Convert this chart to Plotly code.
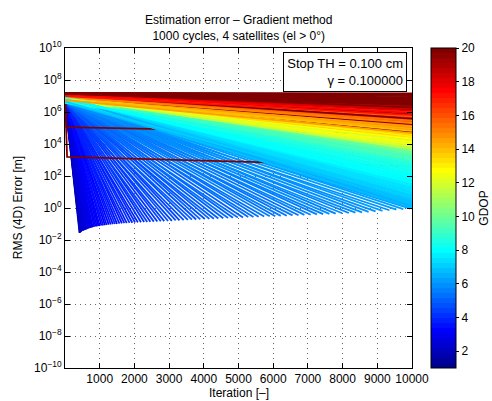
import plotly.graph_objects as go

# ---------------- data ----------------
# converged runs: GDOP, log10 start error, stop iteration, log10 final error
conv_gdop = [1.6, 2.0, 1.8, 2.3, 1.9, 2.1, 2.4, 2.2, 2.5, 2.3, 2.6, 2.4, 2.7, 2.5, 2.8, 2.6, 2.9, 2.7, 3.0, 2.8,
             3.1, 2.9, 3.2, 3.0,
             3.3, 3.1, 3.4, 3.2, 3.5, 3.3, 3.6, 3.4, 3.7, 3.5, 3.8, 3.6, 3.9, 3.7,
             4.0, 3.8, 4.1, 3.9, 4.2, 4.0, 4.3, 4.1, 4.4, 4.2, 4.5, 4.3, 4.6, 4.4, 4.7, 4.5, 4.8, 4.6, 4.9, 4.7,
             5.0, 4.8, 5.1, 4.9, 5.1, 5.0, 5.2, 5.0, 5.3, 5.1, 5.3, 5.2, 5.4, 5.2, 5.5, 5.3, 5.5, 5.4, 5.6, 5.4,
             5.7, 5.5, 5.7, 5.6, 5.8, 5.6, 5.9, 5.7, 6.0, 5.8, 6.0, 5.9, 6.1, 6.0, 6.2, 6.1, 6.3]
conv_start = [6.8, 6.9, 6.6, 6.95, 6.7, 6.85, 6.75, 6.9, 6.6, 6.8, 6.95, 6.7, 6.85, 6.6, 6.9, 6.75, 6.8, 6.65, 6.9, 6.7,
              6.85, 6.6, 6.8, 6.95, 6.7, 6.85, 6.6, 6.8, 6.9, 6.7, 6.85, 6.65, 6.8, 6.9, 6.7, 6.85, 6.6, 6.8, 6.9, 6.7,
              6.85, 6.65, 6.8, 6.9, 6.7, 6.85, 6.6, 6.8, 6.9, 6.7, 6.85, 6.65, 6.8, 6.9, 6.7, 6.85, 6.6, 6.8, 6.9, 6.7,
              6.85, 6.65, 6.8, 6.9, 6.7, 6.85, 6.6, 6.8, 6.9, 6.7, 6.85, 6.65, 6.8, 6.9, 6.7, 6.85, 6.6, 6.8, 6.9, 6.7,
              6.85, 6.65, 6.8, 6.9, 6.7, 6.85, 6.6, 6.8, 6.9, 6.7, 6.85, 6.65, 6.8, 6.9, 6.7]
conv_iter = [420, 430, 440, 450, 460, 470, 480, 500, 520, 540, 560, 580, 600, 620, 650, 680, 710, 740, 770, 800,
             840, 880, 920, 960, 1000, 1050, 1100, 1150, 1200, 1260, 1320, 1380, 1440, 1500, 1570, 1640, 1710, 1780, 1860, 1940,
             2020, 2100, 2190, 2280, 2370, 2460, 2560, 2660, 2760, 2860, 2970, 3080, 3190, 3300, 3420, 3540, 3660, 3780, 3900, 4030,
             4160, 4290, 4420, 4560, 4700, 4840, 4980, 5130, 5280, 5430, 5580, 5740, 5900, 6060, 6220, 6390, 6560, 6730, 6900, 7080,
             7260, 7440, 7620, 7800, 7990, 8180, 8370, 8560, 8750, 8950, 9150, 9350, 9550, 9750, 9950]
conv_end = [-1.56, -1.55, -1.52, -1.50, -1.48, -1.47, -1.45, -1.43, -1.42, -1.40, -1.38, -1.36, -1.35, -1.33, -1.31, -1.28, -1.26, -1.24, -1.22, -1.20,
            -1.18, -1.16, -1.15, -1.13, -1.12, -1.10, -1.09, -1.07, -1.06, -1.04, -1.03, -1.01, -1.00, -0.99, -0.97, -0.96, -0.95, -0.94, -0.93, -0.92,
            -0.91, -0.90, -0.89, -0.88, -0.87, -0.86, -0.85, -0.84, -0.83, -0.82, -0.81, -0.80, -0.78, -0.77, -0.76, -0.74, -0.73, -0.72, -0.71, -0.69,
            -0.68, -0.67, -0.66, -0.64, -0.63, -0.61, -0.60, -0.59, -0.57, -0.56, -0.55, -0.53, -0.52, -0.51, -0.49, -0.48, -0.46, -0.45, -0.43, -0.42,
            -0.40, -0.38, -0.37, -0.35, -0.33, -0.31, -0.29, -0.27, -0.24, -0.21, -0.18, -0.14, -0.10, -0.07, -0.04]

# runs still going at iteration 10000: GDOP, log10 start error, log10 error at 10000
stall_gdop = [6.5, 6.7, 6.6, 6.8, 6.7, 6.9, 6.8, 7.0, 6.9, 7.1, 7.0, 7.2, 7.1, 7.3, 7.2, 7.5, 7.4, 7.6, 7.5, 7.7,
              7.6, 7.8, 7.7, 7.9, 7.8, 8.0, 7.9, 8.1, 8.0, 8.2, 8.1, 8.3, 8.2, 8.4, 8.3, 8.5, 8.4, 8.6, 8.5, 8.7,
              8.6, 8.8, 8.7, 9.2, 9.0, 9.6, 9.3, 10.0, 9.5, 10.5, 9.8, 11.0, 10.2, 11.5, 10.6, 12.0, 11.2, 12.4, 11.8, 12.8,
              12.2, 13.2, 12.6, 13.6, 13.0, 14.0, 13.4, 14.4, 20.0, 13.8, 14.8, 14.2, 15.2, 14.6, 15.6, 20.0, 15.0, 16.0, 15.4, 16.4,
              20.0, 16.8, 15.8, 17.2, 20.0, 17.6, 16.6, 18.0, 20.0, 18.5, 20.0, 17.8, 20.0, 20.0, 20.0, 20.0, 20.0, 20.0, 20.0, 20.0,
              20.0, 20.0, 20.0, 20.0]
stall_start = [6.8, 6.7, 6.9, 6.75, 6.85, 6.6, 6.9, 6.7, 6.85, 6.65, 6.8, 6.9, 6.7, 6.85, 6.6, 6.8, 6.9, 6.7, 6.85, 6.65,
               6.8, 6.9, 6.7, 6.85, 6.6, 6.8, 6.9, 6.7, 6.85, 6.65, 6.8, 6.9, 6.7, 6.85, 6.6, 6.8, 6.9, 6.7, 6.85, 6.65,
               6.8, 6.9, 6.7, 6.85, 6.6, 6.8, 6.9, 6.7, 6.85, 6.65, 6.8, 6.9, 6.7, 6.85, 6.6, 6.8, 6.9, 6.7, 6.85, 6.65,
               6.8, 6.9, 6.7, 6.85, 6.95, 6.8, 6.9, 6.75, 6.9, 6.85, 7.0, 6.8, 6.95, 6.85, 7.0, 6.9, 6.95, 7.05, 6.9, 7.0,
               7.05, 6.95, 7.1, 7.0, 7.05, 7.1, 7.0, 7.1, 7.05, 7.1, 7.15, 7.1, 7.15, 7.1, 7.15, 7.15, 7.15, 7.15, 7.18, 7.18,
               7.18, 7.2, 7.2, 7.2]
stall_end = [-0.02, 0.05, 0.12, 0.20, 0.27, 0.34, 0.41, 0.48, 0.55, 0.62, 0.69, 0.76, 0.83, 0.90, 0.97, 1.04, 1.11, 1.18, 1.25, 1.32,
             1.39, 1.46, 1.53, 1.60, 1.67, 1.74, 1.81, 1.88, 1.95, 2.02, 2.09, 2.16, 2.23, 2.30, 2.37, 2.44, 2.51, 2.58, 2.65, 2.72,
             2.79, 2.86, 2.93, 3.00, 3.07, 3.14, 3.21, 3.28, 3.35, 3.42, 3.49, 3.56, 3.63, 3.70, 3.77, 3.84, 3.91, 3.98, 4.05, 4.12,
             4.19, 4.26, 4.33, 4.40, 4.47, 4.54, 4.61, 4.68, 4.75, 4.82, 4.89, 4.96, 5.03, 5.10, 5.17, 5.24, 5.31, 5.38, 5.45, 5.52,
             5.59, 5.66, 5.73, 5.80, 5.87, 5.94, 6.01, 6.08, 6.15, 6.22, 6.29, 6.36, 6.43, 6.50, 6.57, 6.64, 6.71, 6.78, 6.85, 6.92,
             6.99, 7.06, 7.12, 7.16]

# two runs that drop in the first iterations and then stall
step_gdop = [20.0, 20.0]
step_iters = [[1, 40, 10000], [1, 40, 60, 10000]]
step_logs = [[7.05, 5.05, 4.6], [7.1, 5.05, 3.2, 2.6]]

y_tick_exp = [-10, -8, -6, -4, -2, 0, 2, 4, 6, 8, 10]
x_ticks = [1000, 2000, 3000, 4000, 5000, 6000, 7000, 8000, 9000, 10000]
cbar_ticks = [2, 4, 6, 8, 10, 12, 14, 16, 18, 20]
CMIN, CMAX = 1, 20

# ---------------- MATLAB jet(64) ----------------
def jet(m=64):
    n = m // 4
    u = [i / n for i in range(1, n + 1)] + [1.0] * (n - 1) + [i / n for i in range(n, 0, -1)]
    J = [[0.0, 0.0, 0.0] for _ in range(m)]
    gidx = [n // 2 + k for k in range(1, len(u) + 1)]
    for k, gi in enumerate(gidx):
        ri, bi = gi + n, gi - n
        if ri <= m:
            J[ri - 1][0] = u[k]
        if gi <= m:
            J[gi - 1][1] = u[k]
        if 1 <= bi <= m:
            J[bi - 1][2] = u[k]
    return ['rgb(%d,%d,%d)' % tuple(round(255 * c) for c in row) for row in J]

JET = jet(64)

def color_of(g):
    i = int((g - CMIN) / (CMAX - CMIN) * 64)
    return JET[max(0, min(63, i))]

fig = go.Figure()
LW = 1.8

def add_line(xs, logs, g):
    fig.add_trace(go.Scatter(x=xs, y=[10 ** v for v in logs], mode='lines',
                             line=dict(color=color_of(g), width=LW),
                             hoverinfo='skip', showlegend=False))

for g, s, t, e in zip(conv_gdop, conv_start, conv_iter, conv_end):
    add_line([1, t], [s, e], g)

for g, its, lg in zip(step_gdop, step_iters, step_logs):
    add_line(its, lg, g)

n = len(stall_gdop)
order = [(i * 37) % n for i in range(n)]
for i in order:
    add_line([1, 10000], [stall_start[i], stall_end[i]], stall_gdop[i])

# colorbar carrier
cs = []
for i, c in enumerate(JET):
    cs.append([i / 64, c])
    cs.append([(i + 1) / 64, c])
fig.add_trace(go.Scatter(x=[-5000, -5000], y=[1, 1], mode='markers',
                         marker=dict(color=[CMIN, CMAX], colorscale=cs, cmin=CMIN, cmax=CMAX, size=1,
                                     showscale=True,
                                     colorbar=dict(x=1.055, xanchor='left', xpad=0, ypad=0,
                                                   y=0.5, yanchor='middle', len=1, lenmode='fraction',
                                                   thickness=25, outlinecolor='black', outlinewidth=1,
                                                   tickvals=cbar_ticks, ticks='outside', ticklen=3,
                                                   tickcolor='black', tickfont=dict(size=12, color='black'),
                                                   title=dict(text='GDOP', side='right',
                                                              font=dict(size=12, color='black')))),
                         hoverinfo='skip', showlegend=False))

FONT = 'Liberation Sans, Arial, Helvetica, sans-serif'
axis_common = dict(showline=True, linecolor='black', linewidth=1, mirror='allticks',
                   ticks='inside', ticklen=5, tickcolor='black',
                   showgrid=True, gridcolor='rgba(0,0,0,0.6)', gridwidth=1, griddash='1px,4px',
                   zeroline=False, tickfont=dict(size=12, color='black'))

fig.update_layout(
    width=492, height=401, margin=dict(l=65, r=80, t=48, b=33, autoexpand=False),
    paper_bgcolor='white', plot_bgcolor='white',
    font=dict(family=FONT, size=12, color='black'),
    xaxis=dict(range=[0, 10000], tickvals=x_ticks, ticktext=[str(v) for v in x_ticks], **axis_common),
    yaxis=dict(type='log', range=[-10, 10], tickvals=[10.0 ** e for e in y_tick_exp],
               ticktext=['10<sup>%s</sup>' % (str(e).replace('-', '\u2212')) for e in y_tick_exp],
               **axis_common),
    annotations=[
        dict(text='Estimation error \u2013 Gradient method<br>1000 cycles, 4 satellites (el > 0\u00b0)',
             xref='paper', yref='paper', x=0.5, y=1.115, xanchor='center', yanchor='top',
             showarrow=False, font=dict(size=12)),
        dict(text='RMS (4D) Error [m]', xref='paper', yref='paper', x=-0.135, y=0.5,
             textangle=-90, xanchor='center', yanchor='middle', showarrow=False, font=dict(size=12)),
        dict(text='Iteration [\u2013]', xref='paper', yref='paper', x=0.5, y=-0.078,
             xanchor='center', yanchor='middle', showarrow=False, font=dict(size=12)),
        dict(text='Stop TH = 0.100 cm<br>\u03b3 = 0.100000', xref='paper', yref='paper',
             x=0.9856, y=0.9875, xanchor='right', yanchor='top', align='right', width=116,
             showarrow=False, bordercolor='black', borderwidth=1, borderpad=3, bgcolor='white',
             font=dict(size=13)),
    ],
)

fig.write_html('out.html')
